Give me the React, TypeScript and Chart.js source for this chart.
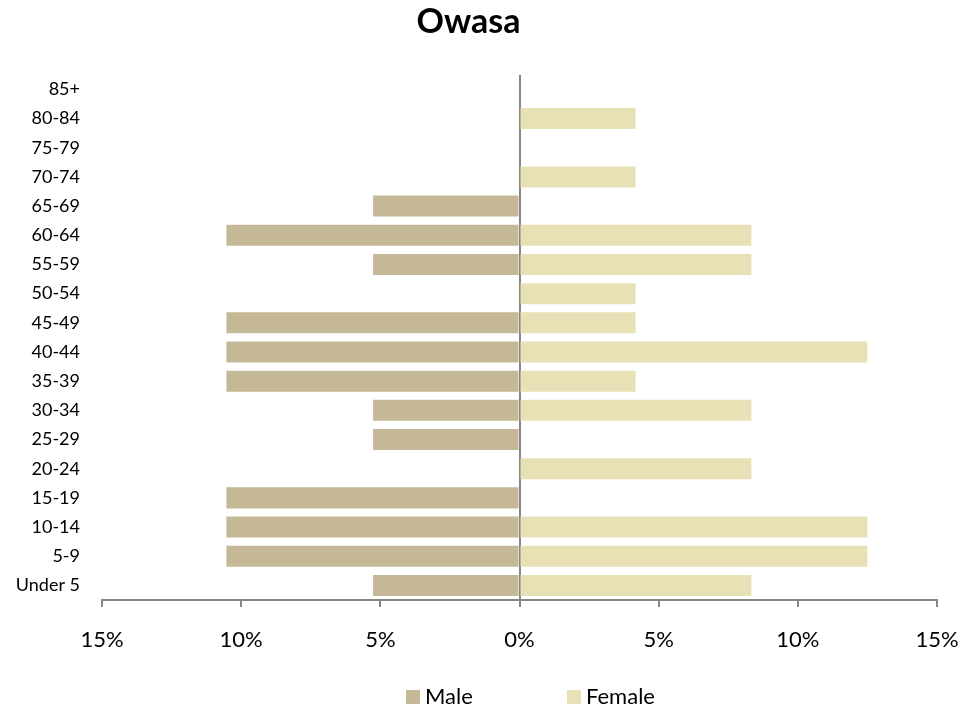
import React, { useEffect, useRef } from "react";
import { Chart, registerables } from "chart.js";

Chart.register(...registerables);

const categories = ["85+", "80-84", "75-79", "70-74", "65-69", "60-64", "55-59", "50-54", "45-49", "40-44", "35-39", "30-34", "25-29", "20-24", "15-19", "10-14", "5-9", "Under 5"];
const maleValues = [0, 0, 0, 0, -5.26, -10.53, -5.26, 0, -10.53, -10.53, -10.53, -5.26, -5.26, 0, -10.53, -10.53, -10.53, -5.26];
const femaleValues = [0, 4.17, 0, 4.17, 0, 8.33, 8.33, 4.17, 4.17, 12.5, 4.17, 8.33, 0, 8.33, 0, 12.5, 12.5, 8.33];
const xTicks = [-15, -10, -5, 0, 5, 10, 15];

const FONT = "Lato, 'Open Sans', sans-serif";
const LEGEND_X = [406, 567];
const LEGEND_Y = 697;

const legendPlugin = {
  id: "customLegend",
  afterDraw(chart: any) {
    const ctx = chart.ctx;
    ctx.save();
    ctx.font = `22px ${FONT}`;
    ctx.textBaseline = "middle";
    ctx.textAlign = "left";
    chart.data.datasets.forEach((ds: any, i: number) => {
      const x = LEGEND_X[i];
      ctx.fillStyle = ds.backgroundColor;
      ctx.fillRect(x, LEGEND_Y - 7, 14, 14);
      ctx.fillStyle = "#000";
      ctx.fillText(ds.label, x + 19, LEGEND_Y);
    });
    ctx.restore();
  },
};

export default function App() {
  const ref = useRef<HTMLCanvasElement | null>(null);
  useEffect(() => {
    document.body.style.margin = "0";
    if (!ref.current) return;
    const chart = new Chart(ref.current, {
      type: "bar",
      data: {
        labels: categories,
        datasets: [
          { label: "Male", data: maleValues, backgroundColor: "#C4B896", barPercentage: 0.72, categoryPercentage: 1 },
          { label: "Female", data: femaleValues, backgroundColor: "#E8E1B6", barPercentage: 0.72, categoryPercentage: 1 },
        ],
      },
      plugins: [legendPlugin],
      options: {
        indexAxis: "y",
        animation: false,
        responsive: true,
        maintainAspectRatio: false,
        layout: { padding: { left: 0, right: 42, top: 0, bottom: 51 } },
        plugins: {
          title: {
            display: true,
            text: "Owasa",
            color: "#000",
            font: { family: FONT, size: 34, weight: "bold" },
            padding: { top: 2, bottom: 32 },
          },
          legend: { display: false },
          tooltip: { enabled: false },
        },
        scales: {
          x: {
            type: "linear",
            min: -15,
            max: 15,
            stacked: true,
            afterBuildTicks: (s: any) => {
              s.ticks = xTicks.map((v) => ({ value: v }));
            },
            afterFit: (s: any) => {
              s.height = 60;
            },
            ticks: {
              color: "#000",
              font: { family: FONT, size: 22 },
              padding: 20,
              callback: (v: any) => Math.abs(Number(v)) + "%",
            },
            grid: {
              drawOnChartArea: true,
              color: (ctx: any) => (ctx.tick && ctx.tick.value === 0 ? "#868686" : "rgba(0,0,0,0)"),
              tickColor: "#868686",
              tickLength: 7,
              lineWidth: 2,
            },
            border: { display: true, color: "#868686", width: 2 },
          },
          y: {
            stacked: true,
            afterFit: (s: any) => {
              s.width = 102;
            },
            ticks: {
              color: "#000",
              font: { family: FONT, size: 18 },
              padding: 22,
            },
            grid: { display: false, drawTicks: false },
            border: { display: false },
          },
        },
      },
    });
    return () => chart.destroy();
  }, []);
  return (
    <div style={{ position: "relative", width: 979, height: 711 }}>
      <canvas ref={ref} />
    </div>
  );
}
